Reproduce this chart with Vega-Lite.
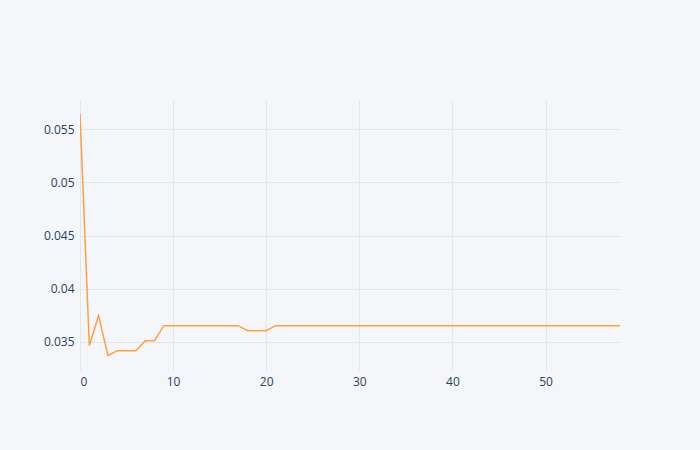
{
  "$schema": "https://vega.github.io/schema/vega-lite/v6.json",
  "width": 540,
  "height": 270,
  "autosize": {"type": "none"},
  "padding": {"left": 80, "top": 100, "right": 80, "bottom": 80},
  "background": "#f5f6f9",
  "config": {
    "view": {"stroke": null},
    "axis": {"labelFont": "Open Sans", "labelColor": "#2a3f5f", "labelFontSize": 12, "gridColor": "#e3e6ec", "domain": false, "ticks": false, "title": null, "labelPadding": 6}
  },
  "data": {"values": [
    {"x": 0, "y": 0.05647}, {"x": 1, "y": 0.03466}, {"x": 2, "y": 0.03747}, {"x": 3, "y": 0.03371},
    {"x": 4, "y": 0.03418}, {"x": 5, "y": 0.03418}, {"x": 6, "y": 0.03418}, {"x": 7, "y": 0.03512},
    {"x": 8, "y": 0.03512}, {"x": 9, "y": 0.03653}, {"x": 10, "y": 0.03653}, {"x": 11, "y": 0.03653},
    {"x": 12, "y": 0.03653}, {"x": 13, "y": 0.03653}, {"x": 14, "y": 0.03653}, {"x": 15, "y": 0.03653},
    {"x": 16, "y": 0.03653}, {"x": 17, "y": 0.03653}, {"x": 18, "y": 0.03606}, {"x": 19, "y": 0.03606},
    {"x": 20, "y": 0.03606}, {"x": 21, "y": 0.03653}, {"x": 22, "y": 0.03653}, {"x": 23, "y": 0.03653},
    {"x": 24, "y": 0.03653}, {"x": 25, "y": 0.03653}, {"x": 26, "y": 0.03653}, {"x": 27, "y": 0.03653},
    {"x": 28, "y": 0.03653}, {"x": 29, "y": 0.03653}, {"x": 30, "y": 0.03653}, {"x": 31, "y": 0.03653},
    {"x": 32, "y": 0.03653}, {"x": 33, "y": 0.03653}, {"x": 34, "y": 0.03653}, {"x": 35, "y": 0.03653},
    {"x": 36, "y": 0.03653}, {"x": 37, "y": 0.03653}, {"x": 38, "y": 0.03653}, {"x": 39, "y": 0.03653},
    {"x": 40, "y": 0.03653}, {"x": 41, "y": 0.03653}, {"x": 42, "y": 0.03653}, {"x": 43, "y": 0.03653},
    {"x": 44, "y": 0.03653}, {"x": 45, "y": 0.03653}, {"x": 46, "y": 0.03653}, {"x": 47, "y": 0.03653},
    {"x": 48, "y": 0.03653}, {"x": 49, "y": 0.03653}, {"x": 50, "y": 0.03653}, {"x": 51, "y": 0.03653},
    {"x": 52, "y": 0.03653}, {"x": 53, "y": 0.03653}, {"x": 54, "y": 0.03653}, {"x": 55, "y": 0.03653},
    {"x": 56, "y": 0.03653}, {"x": 57, "y": 0.03653}, {"x": 58, "y": 0.03653}
  ]},
  "mark": {"type": "line", "color": "#ffa03f", "strokeWidth": 1.5, "clip": true},
  "encoding": {
    "x": {"field": "x", "type": "quantitative", "scale": {"domain": [0, 58], "nice": false, "zero": false},
      "axis": {"values": [0, 10, 20, 30, 40, 50], "format": "d"}},
    "y": {"field": "y", "type": "quantitative", "scale": {"domain": [0.03236, 0.05774], "nice": false, "zero": false},
      "axis": {"values": [0.035, 0.04, 0.045, 0.05, 0.055], "format": "~g"}}
  }
}
